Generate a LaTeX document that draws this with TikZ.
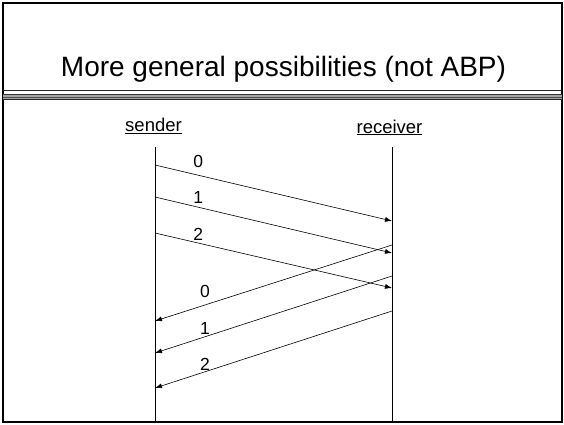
\documentclass[tikz,border=0pt]{standalone}
\usepackage{fontspec}
\setmainfont{Liberation Sans}
\usetikzlibrary{arrows.meta}

\tikzset{
  lifeline/.style={line width=0.8pt},
  msg/.style={line width=0.6pt, -{Latex[length=7pt,width=5pt]}},
  seqlabel/.style={font=\fontsize{17.5}{20}\selectfont, inner sep=0pt},
  rolelabel/.style={font=\fontsize{18.5}{21}\selectfont, anchor=base, inner sep=0pt},
  titletext/.style={font=\fontsize{28}{32}\selectfont, anchor=base, inner sep=0pt}
}

\begin{document}
\begin{tikzpicture}[x=1pt, y=-1pt]
  \useasboundingbox (0,0) rectangle (564,424);

  % slide frame
  \draw[line width=2pt] (3,3) rectangle (562,422);
  \draw[line width=1.5pt] (3.5,2) -- (3.5,423);

  % rule under the heading
  \draw[line width=0.9pt, black!85] (3,90.7) -- (562,90.7);
  \fill[black!35] (3,94) rectangle (562,100);
  \draw[line width=0.8pt, black!80] (3,94.5) -- (562,94.5);
  \draw[line width=0.8pt, black!70] (3,97.5) -- (562,97.5);
  \draw[line width=0.8pt, black!85] (3,99.6) -- (562,99.6);

  % heading
  \node[titletext] (title) at (283.5,76.7) {More general possibilities (not ABP)};

  % participants
  \node[rolelabel] (sender) at (153.5,131.5) {\underline{sender}};
  \node[rolelabel] (receiver) at (389.5,133) {\underline{receiver}};

  % lifelines
  \coordinate (stop) at (155,147);
  \coordinate (sbot) at (155,422);
  \coordinate (rtop) at (392.5,147);
  \coordinate (rbot) at (392.5,422);
  \draw[lifeline] (stop) -- (sbot);
  \draw[lifeline] (rtop) -- (rbot);

  % data messages
  \coordinate (d0s) at (155,165);   \coordinate (d0r) at (392,221);
  \coordinate (d1s) at (155,197);   \coordinate (d1r) at (392,253);
  \coordinate (d2s) at (155,233);   \coordinate (d2r) at (392,288);
  \draw[msg] (d0s) -- (d0r);
  \draw[msg] (d1s) -- (d1r);
  \draw[msg] (d2s) -- (d2r);
  \node[seqlabel] (dl0) at (198.3,161) {0};
  \node[seqlabel] (dl1) at (198.3,197) {1};
  \node[seqlabel] (dl2) at (198.3,234) {2};

  % acknowledgements
  \coordinate (a0r) at (392,245);   \coordinate (a0s) at (155,321);
  \coordinate (a1r) at (392,276);   \coordinate (a1s) at (155,353);
  \coordinate (a2r) at (392,311);   \coordinate (a2s) at (155,388);
  \draw[msg] (a0r) -- (a0s);
  \draw[msg] (a1r) -- (a1s);
  \draw[msg] (a2r) -- (a2s);
  \node[seqlabel] (al0) at (205,291) {0};
  \node[seqlabel] (al1) at (205,328) {1};
  \node[seqlabel] (al2) at (205,364) {2};
\end{tikzpicture}
\end{document}
